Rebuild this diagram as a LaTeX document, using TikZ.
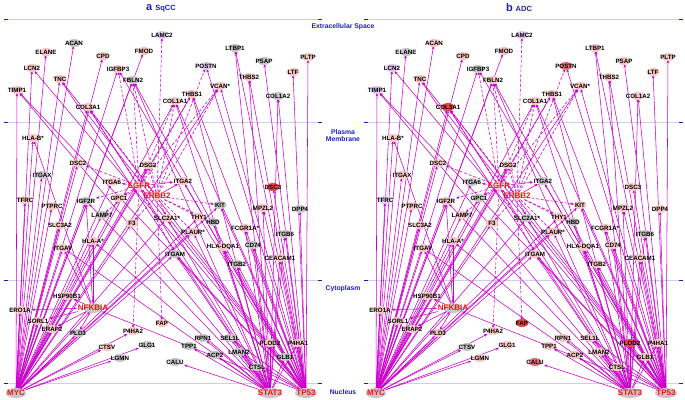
\documentclass[tikz,border=0pt]{standalone}
\usepackage{fontspec}
\setmainfont{Liberation Sans}
\usetikzlibrary{arrows.meta,shapes.geometric}
\pgfdeclarelayer{paper}\pgfdeclarelayer{lanes}\pgfdeclarelayer{edges}\pgfdeclarelayer{shapes}
\pgfsetlayers{paper,lanes,edges,shapes,main}
\definecolor{mg}{RGB}{204,0,204}
\definecolor{lanec}{RGB}{205,205,240}
\definecolor{dblue}{RGB}{30,30,190}
\definecolor{gr}{RGB}{198,198,198}
\definecolor{pk}{RGB}{244,200,196}
\definecolor{lv}{RGB}{222,200,236}
\definecolor{rd}{RGB}{232,70,70}
\definecolor{dp}{RGB}{230,110,125}
\definecolor{rtext}{RGB}{240,20,20}
\tikzset{
 lbl/.style={font=\fontsize{6.2}{7}\selectfont\bfseries, inner sep=0.6pt, text=black},
 reg/.style={font=\fontsize{8}{9}\selectfont\bfseries, inner sep=0.6pt, text=rtext},
 ed/.style={draw=mg, line width=0.55pt, -{Stealth[length=3.4pt,width=2.8pt]}},
 de/.style={ed, dash pattern=on 3pt off 1.8pt},
 lane/.style={draw=lanec, line width=0.6pt},
 tickm/.style={draw=dblue, line width=0.7pt},
 lanelbl/.style={font=\fontsize{6.8}{8}\selectfont\bfseries, text=dblue, align=center, inner sep=0pt},
 ttl/.style={font=\fontsize{7.5}{9}\selectfont\bfseries, text=dblue, inner sep=0pt},
}
\newcommand\drawpanel[4]{%
% #1 prefix, #2 x offset, #3 panel number, #4 lane right end
\begin{pgfonlayer}{lanes}
\foreach \yy in {19,122.5,280,383}{
 \draw[lane] (#2+4,\yy) -- (#4,\yy);
 \draw[tickm] (#2+4,\yy) -- (#2+8,\yy);
 \draw[tickm] (#4-4,\yy) -- (#4,\yy);
}
\end{pgfonlayer}
\foreach \id/\x/\y/\lab/\ca/\cb in {
LAMC2/162/35/LAMC2/lv/lv, ACAN/74/43/ACAN/gr/pk, ELANE/46/52/ELANE/pk/gr,
CPD/103/56/CPD/pk/pk, FMOD/144/51/FMOD/pk/pk, LTBP1/235/48/LTBP1/gr/pk,
PSAP/264/61/PSAP/gr/pk, PLTP/308/57/PLTP/pk/pk, LCN2/32/68/LCN2/pk/lv,
IGFBP3/118/69/IGFBP3/pk/gr, POSTN/206/66/POSTN/lv/dp, FBLN2/133/80/FBLN2/gr/pk,
TNC/60/79/TNC/pk/pk, THBS2/249/77/THBS2/pk/pk, LTF/293/72/LTF/pk/pk,
VCAN/220/86/VCAN*/pk/pk, TIMP1/17/90/TIMP1/pk/lv, THBS1/192/94/THBS1/pk/pk,
COL1A2/278/96/COL1A2/gr/pk, COL1A1/175/101/COL1A1/pk/pk, COL3A1/88/107/COL3A1/pk/rd,
HLAB/33/138/HLA-B*/pk/pk, DSC2/78/163/DSC2/pk/pk, DSG2/148/165/DSG2/pk/pk,
ITGAX/42/175/ITGAX/gr/pk, ITGA6/112/182/ITGA6/pk/gr, ITGA2/183/181/ITGA2/pk/gr,
DSC3/273/187/DSC3/rd/pk, TFRC/25/200/TFRC/pk/lv, IGF2R/86/201/IGF2R/gr/pk,
GPC1/119/198/GPC1/pk/gr, KIT/220/205/KIT/gr/pk, PTPRC/52/206/PTPRC/pk/pk,
MPZL2/263/208/MPZL2/pk/pk, DPP4/300/209/DPP4/gr/pk, LAMP7/102/215/LAMP7/gr/pk,
SLC2A1/167/218/SLC2A1*/pk/gr, THY1/199/217/THY1/pk/pk, HBD/213/222/HBD/gr/gr,
F3/132/223/F3/pk/pk, SLC3A2/60/225/SLC3A2/pk/pk, FCGR1A/245/228/FCGR1A*/pk/pk,
PLAUR/193/232/PLAUR*/pk/pk, ITGB6/285/234/ITGB6/gr/gr, HLAA/93/241/HLA-A*/pk/pk,
CD74/253/245/CD74/gr/pk, HLADQA1/223/247/HLA-DQA1/pk/pk, ITGAV/63/248/ITGAV/pk/pk,
ITGAM/175/254/ITGAM/gr/pk, CEACAM1/280/258/CEACAM1/pk/pk, ITGB2/237/264/ITGB2/gr/pk,
HSP90B1/67/296/HSP90B1/pk/pk, ERO1A/20/310/ERO1A/pk/pk, SORL1/38/321/SORL1/pk/pk,
ERAP2/52/329/ERAP2/pk/pk, PLD3/78/333/PLD3/gr/pk, P4HA2/133/331/P4HA2/pk/pk,
FAP/162/323/FAP/pk/rd, RPN1/203/338/RPN1/gr/pk, SEL1L/230/338/SEL1L/gr/pk,
PLOD2/270/343/PLOD2/pk/rd, P4HA1/298/343/P4HA1/pk/pk, TPP1/189/346/TPP1/gr/pk,
GLG1/147/345/GLG1/gr/pk, CTSV/107/347/CTSV/pk/gr, LMAN2/239/352/LMAN2/gr/pk,
GLB1/285/357/GLB1/gr/pk, ACP2/215/355/ACP2/gr/pk, LGMN/120/358/LGMN/gr/pk,
CALU/175/362/CALU/gr/dp, CTSL/257/367/CTSL/gr/pk}{
 \ifnum#3=1 \edef\fc{\ca}\else\edef\fc{\cb}\fi
 \node[lbl] (#1\id) at (\x+#2,\y) {\lab};
 \begin{pgfonlayer}{shapes}
 \fill[\fc] (#1\id.center) ellipse [x radius=6.5pt, y radius=4pt];
 \end{pgfonlayer}
}
\foreach \id/\x/\y/\rx/\sc in {MYC/16/393/10/gr, STAT3/270/393/12/gr, TP53/306/393/11/gr,
 EGFR/139/186/4/pk, ERBB2/157/196/4/pk, NFKBIA/93/308/9/gr}{
 \node[reg] (#1\id) at (\x+#2,\y) {\id};
 \begin{pgfonlayer}{shapes}
 \fill[\sc] (#1\id.center) ellipse [x radius=\rx pt, y radius=5pt];
 \end{pgfonlayer}
}
\begin{pgfonlayer}{edges}
\foreach \dst in {TIMP1,LCN2,ELANE,ACAN,TNC,COL3A1,CPD,IGFBP3,FBLN2,FMOD,HLAB,DSC2,
 ITGAX,TFRC,PTPRC,SLC3A2,ITGAV,HLAA,IGF2R,LAMP7,GPC1,ITGA6,F3,DSG2,EGFR,SLC2A1,ITGAM,
 KIT,THBS1,COL1A1,VCAN,HSP90B1,ERO1A,NFKBIA,SORL1,ERAP2,PLD3,CTSV,LGMN,GLG1,P4HA2,
 PLAUR,THY1}
 \draw[ed] (#1MYC) -- (#1\dst);
\foreach \dst in {PLTP,LTF,COL1A2,THBS2,PSAP,LTBP1,POSTN,VCAN,THBS1,COL1A1,DPP4,ITGB6,
 CEACAM1,DSC3,MPZL2,FCGR1A,CD74,HLADQA1,ITGB2,KIT,THY1,ITGA2,EGFR,P4HA1,GLB1,PLOD2,
 CTSL,LMAN2,SEL1L,TIMP1,TNC,COL3A1,FBLN2,LCN2,IGFBP3,NFKBIA,ITGAM}
 \draw[ed] (#1TP53) -- (#1\dst);
\foreach \dst in {LTBP1,COL1A2,THBS2,THBS1,COL1A1,ITGB2,HLADQA1,CD74,FCGR1A,PLAUR,HBD,
 SLC2A1,ITGAM,CEACAM1,MPZL2,ITGB6,RPN1,TPP1,ACP2,CALU,CTSL,PLOD2,LMAN2,SEL1L,GLB1,
 P4HA1,TIMP1,TNC,COL3A1,FBLN2,HLAA,ITGAV,IGF2R}
 \draw[ed] (#1STAT3) -- (#1\dst);
\foreach \src/\dst in {ERBB2/LAMC2,EGFR/FBLN2,ERBB2/FBLN2,EGFR/COL3A1,ERBB2/COL3A1,
 EGFR/IGFBP3,ERBB2/POSTN,EGFR/VCAN,ERBB2/VCAN,EGFR/THBS1,ERBB2/COL1A1,EGFR/COL1A1,
 EGFR/DSC2,EGFR/DSG2,ERBB2/DSG2,EGFR/ITGA6,EGFR/GPC1,EGFR/IGF2R,EGFR/LAMP7,ERBB2/F3,
 ERBB2/SLC2A1,ERBB2/THY1,ERBB2/KIT,ERBB2/PLAUR,ERBB2/HBD,EGFR/P4HA2,ERBB2/FAP,EGFR/ITGAM}
 \draw[de] (#1\src) -- (#1\dst);
\foreach \src/\dst in {EGFR/ITGA2,ERBB2/ITGA2,NFKBIA/ERO1A,NFKBIA/SORL1,NFKBIA/ERAP2,
 NFKBIA/PLD3,NFKBIA/HSP90B1,NFKBIA/HLAA,NFKBIA/ITGAV,NFKBIA/IGF2R,NFKBIA/HLAB}
 \draw[ed] (#1\src) -- (#1\dst);
\end{pgfonlayer}
}
\begin{document}
\begin{tikzpicture}[x=1pt,y=-1pt]
\useasboundingbox (0,0) rectangle (685,399);
\begin{pgfonlayer}{paper}
\fill[white] (0,0) rectangle (685,399);
\end{pgfonlayer}
\drawpanel{a}{0}{1}{322}
\drawpanel{b}{360}{2}{683}
\node[ttl] (ta) at (161,8) {{\fontsize{11}{12}\selectfont a}\hspace{3pt}SqCC};
\node[ttl] (tb) at (519,8) {{\fontsize{11}{12}\selectfont b}\hspace{3pt}ADC};
\node[lanelbl] (l1) at (343,27) {Extracellular Space};
\node[lanelbl] (l2) at (343,136) {Plasma\\[-1pt]Membrane};
\node[lanelbl] (l3) at (343,289) {Cytoplasm};
\node[lanelbl] (l4) at (343,392) {Nucleus};
\end{tikzpicture}
\end{document}
